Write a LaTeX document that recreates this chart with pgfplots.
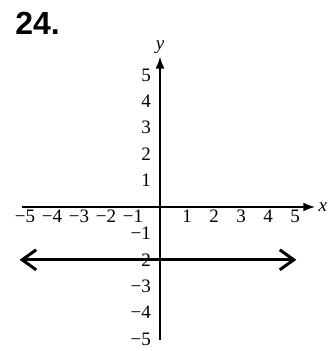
\documentclass[border=0pt]{standalone}
\usepackage{fontspec}
\setmainfont{Liberation Serif}
\newfontfamily\headfont{Liberation Sans}
\usepackage{pgfplots}
\pgfplotsset{compat=1.18}
\usetikzlibrary{arrows.meta}

\begin{document}
\begin{tikzpicture}
  % fixed page size, origin of the axes at (0,0)
  \path[use as bounding box] (-80pt,-72pt) rectangle (84pt,103.5pt);
  \begin{axis}[
    anchor=origin, at={(0,0)},
    x=13.5pt, y=13.2pt,
    axis lines=middle,
    axis line style={line width=1pt, -{Latex[length=6pt,width=4.5pt]}},
    xmin=-5.1, xmax=5.75, ymin=-5.04, ymax=5.7,
    xtick={-5,-4,-3,-2,-1,1,2,3,4,5},
    xticklabels={−5,−4,−3,−2,−1,1,2,3,4,5},
    ytick={-5,-4,-3,-2,-1,1,2,3,4,5},
    yticklabels={−5,−4,−3,−2,−1,1,2,3,4,5},
    major tick length=0pt,
    tick label style={font=\fontsize{9.5}{10}\selectfont},
    xticklabel style={inner sep=1pt, yshift=-0.5pt},
    yticklabel style={xshift=-1pt},
    xlabel={\textit{x}}, ylabel={\textit{y}},
    xlabel style={at={(axis cs:5.75,0)}, anchor=west, inner sep=1.5pt,
      font=\fontsize{9.5}{10}\selectfont},
    ylabel style={at={(axis cs:0,5.7)}, anchor=south, inner sep=1.5pt,
      font=\fontsize{9.5}{10}\selectfont},
    clip=false,
  ]
  % y = -2
  \addplot[line width=1.5pt,
    {Straight Barb[length=7pt,width=10pt]}-{Straight Barb[length=7pt,width=10pt]}]
    coordinates {(-5.2,-2) (5.05,-2)};
  \end{axis}
  \node[anchor=base west, inner sep=0pt,
    font=\headfont\bfseries\fontsize{16}{18}\selectfont] at (-72.5pt,86pt) {24.};
\end{tikzpicture}
\end{document}
